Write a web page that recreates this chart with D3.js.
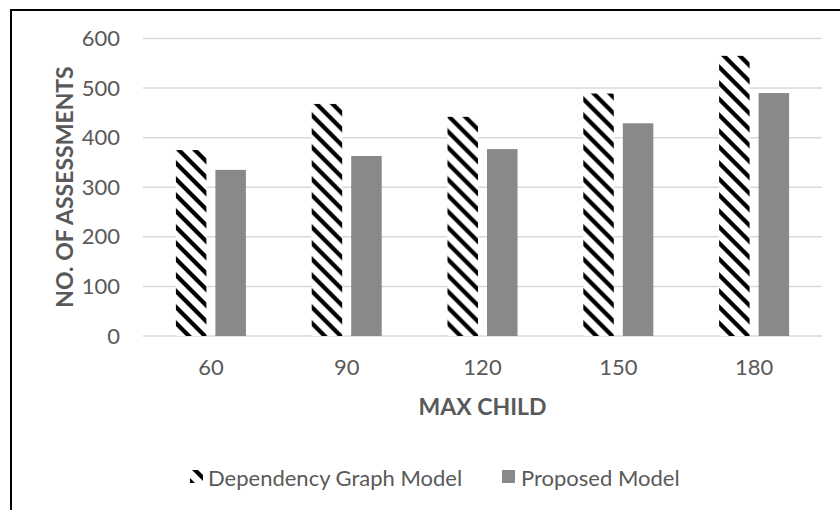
<!DOCTYPE html>
<html>
<head>
<meta charset="utf-8">
<script src="https://cdn.jsdelivr.net/npm/d3@7"></script>
<style>
  html, body { margin: 0; padding: 0; background: #fff; }
  svg { display: block; }
  text { font-family: Lato, "Noto Sans", sans-serif; fill: #595959; }
</style>
</head>
<body>
<svg id="chart" width="840" height="510"></svg>
<script>
// Max child settings on the x axis
const categories = ["60", "90", "120", "150", "180"];
const seriesNames = ["Dependency Graph Model", "Proposed Model"];
// Number of assessments per setting
const dependencyGraph = [375, 468, 442, 489, 565];
const proposed = [335, 363, 377, 429, 490];
const yTicks = [0, 100, 200, 300, 400, 500, 600];

const seriesValues = [dependencyGraph, proposed];
const rows = categories.map((c, i) => ({
  cat: c,
  vals: seriesNames.map((s, j) => ({ series: s, idx: j, value: seriesValues[j][i] }))
}));

const svg = d3.select("#chart");
const W = 840, H = 510;
const plot = { left: 143, right: 822, top: 38.5, bottom: 336 };

// Diagonal-stripe fill for the first series
const defs = svg.append("defs");
const pat = defs.append("pattern")
  .attr("id", "hatch")
  .attr("patternUnits", "userSpaceOnUse")
  .attr("width", 16).attr("height", 16);
pat.append("rect").attr("width", 16).attr("height", 16).attr("fill", "#fff");
[-16, 0, 16].forEach(k => {
  pat.append("polygon")
    .attr("points", `0,${k} 16,${16 + k} 16,${22 + k} 0,${6 + k}`)
    .attr("fill", "#000");
});

// Chart frame
svg.append("rect")
  .attr("x", 11).attr("y", 10)
  .attr("width", W).attr("height", H)
  .attr("fill", "#fff")
  .attr("stroke", "#000").attr("stroke-width", 2);

const y = d3.scaleLinear().domain([0, 600]).range([plot.bottom, plot.top]);
const x0 = d3.scaleBand().domain(categories)
  .range([plot.left, plot.right])
  .paddingInner(0.4845).paddingOuter(0.24225);
const x1 = d3.scaleBand().domain(seriesNames)
  .range([0, x0.bandwidth()])
  .paddingInner(0.228).paddingOuter(0);

// Horizontal gridlines
svg.append("g")
  .selectAll("line")
  .data(yTicks)
  .join("line")
  .attr("x1", plot.left).attr("x2", plot.right)
  .attr("y1", d => y(d)).attr("y2", d => y(d))
  .attr("stroke", "#d9d9d9").attr("stroke-width", 1.5);

// Y tick labels
const yAxis = svg.append("g")
  .attr("transform", `translate(${plot.left - 23},0)`)
  .call(d3.axisLeft(y).tickValues(yTicks).tickSize(0).tickPadding(0));
yAxis.select(".domain").remove();
yAxis.selectAll("text")
  .attr("font-size", 22)
  .attr("font-family", "Lato, sans-serif")
  .attr("fill", "#595959");

// X tick labels
const xAxis = svg.append("g")
  .attr("transform", `translate(0,${plot.bottom + 23})`)
  .call(d3.axisBottom(x0).tickSize(0).tickPadding(0));
xAxis.select(".domain").remove();
xAxis.selectAll("text")
  .attr("font-size", 22)
  .attr("font-family", "Lato, sans-serif")
  .attr("fill", "#595959");

// Bars
const fills = ["url(#hatch)", "#898989"];
svg.append("g")
  .selectAll("g")
  .data(rows)
  .join("g")
  .attr("transform", d => `translate(${x0(d.cat)},0)`)
  .selectAll("rect")
  .data(d => d.vals)
  .join("rect")
  .attr("x", d => x1(d.series))
  .attr("width", x1.bandwidth())
  .attr("y", d => y(d.value))
  .attr("height", d => y(0) - y(d.value))
  .attr("fill", d => fills[d.idx]);

// Axis titles
svg.append("text")
  .attr("x", 482.5).attr("y", 406)
  .attr("text-anchor", "middle").attr("dominant-baseline", "central")
  .attr("font-size", 23).attr("font-weight", "bold")
  .text("MAX CHILD");

svg.append("text")
  .attr("transform", "translate(63.5,187) rotate(-90)")
  .attr("text-anchor", "middle").attr("dominant-baseline", "central")
  .attr("font-size", 23).attr("font-weight", "bold")
  .text("NO. OF ASSESSMENTS");

// Legend
const legendItems = [
  { name: seriesNames[0], fill: fills[0], sx: 190, tx: 208 },
  { name: seriesNames[1], fill: fills[1], sx: 502, tx: 521 }
];
const lg = svg.append("g");
lg.selectAll("rect")
  .data(legendItems)
  .join("rect")
  .attr("x", d => d.sx).attr("y", 470)
  .attr("width", 13).attr("height", 13)
  .attr("fill", d => d.fill);
lg.selectAll("text")
  .data(legendItems)
  .join("text")
  .attr("x", d => d.tx).attr("y", 477)
  .attr("dominant-baseline", "central")
  .attr("font-size", 22)
  .text(d => d.name);
</script>
</body>
</html>
